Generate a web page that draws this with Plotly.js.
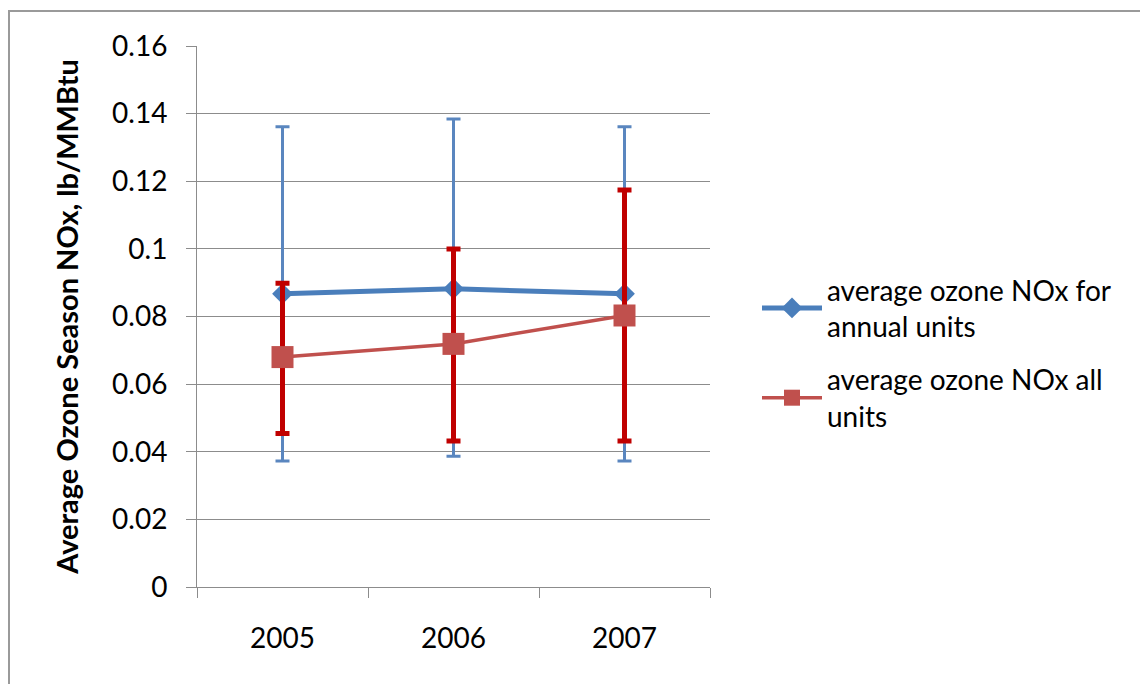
<!DOCTYPE html>
<html>
<head>
<meta charset="utf-8">
<script src="https://cdn.plot.ly/plotly-3.0.1.min.js"></script>
<style>
body{margin:0;background:#fff}
#chart{width:1140px;height:684px}
</style>
</head>
<body>
<div id="chart"></div>
<script>

// values
let years=["2005","2006","2007"]

let annualMean=[0.0867,0.0882,0.0867]
let annualHigh=[0.1361,0.1384,0.1361]
let annualLow=[0.0373,0.0387,0.0373]

let allMean=[0.0680,0.0719,0.0803]
let allHigh=[0.0898,0.1000,0.1174]
let allLow=[0.0454,0.0432,0.0432]

let yTicks=[0,0.02,0.04,0.06,0.08,0.1,0.12,0.14,0.16]
let yTickText=["0","0.02","0.04","0.06","0.08","0.1","0.12","0.14","0.16"]

let FONT="Lato, 'Open Sans', sans-serif"
let GRID="#8c8c8c"

// plot area box, px
let L=197,R=430,T=46,B=97
let W=1140-L-R,H=684-T-B

function errs(mean,hi,lo){
return{
type:"data",
symmetric:false,
array:mean.map((m,i)=>hi[i]-m),
arrayminus:mean.map((m,i)=>m-lo[i])
}
}

let annual={
x:years,
y:annualMean,
name:"average ozone NOx for<br>annual units",
legendgroup:"annual",
type:"scatter",
mode:"lines+markers",
line:{color:"#4a7ebb",width:5},
marker:{symbol:"diamond",size:16,color:"#4a7ebb"},
error_y:Object.assign(errs(annualMean,annualHigh,annualLow),{color:"#5a86bf",thickness:3,width:7})
}

let all={
x:years,
y:allMean,
name:"average ozone NOx all<br>units",
legendgroup:"all",
type:"scatter",
mode:"lines+markers",
line:{color:"#c0504d",width:3.5},
marker:{symbol:"square",size:22,color:"#c0504d"},
error_y:Object.assign(errs(allMean,allHigh,allLow),{color:"#c00000",thickness:5,width:7})
}

let layout={
width:1140,
height:684,
margin:{l:L,r:R,t:T,b:B},
paper_bgcolor:"#fff",
plot_bgcolor:"#fff",
font:{family:FONT,size:28,color:"#000"},
showlegend:true,
legend:{
x:(757-L)/W,
y:1-(265-T)/H,
xanchor:"left",
yanchor:"top",
traceorder:"grouped",
itemwidth:60,
tracegroupgap:14,
font:{family:FONT,size:28,color:"#000"}
},
xaxis:{
type:"category",
range:[-0.5,2.5],
tickson:"boundaries",
ticks:"outside",
ticklen:10,
tickcolor:GRID,
showline:true,
linecolor:GRID,
showgrid:false,
ticklabelstandoff:26,
tickfont:{family:FONT,size:28},
fixedrange:true
},
yaxis:{
range:[0,0.16],
tickvals:yTicks,
ticktext:yTickText,
ticks:"outside",
ticklen:10,
tickcolor:GRID,
showline:true,
linecolor:GRID,
gridcolor:GRID,
gridwidth:1,
zeroline:false,
ticklabelstandoff:13,
tickfont:{family:FONT,size:28},
title:{
text:"<b>Average Ozone Season NOx, lb/MMBtu</b>",
font:{family:FONT,size:29},
standoff:24
},
fixedrange:true
},
shapes:[{
type:"rect",
xref:"paper",
yref:"paper",
x0:(9-L)/W,
x1:(1146-L)/W,
y0:1-(690-T)/H,
y1:1-(11-T)/H,
line:{color:"#9a9a9a",width:2},
layer:"below"
}]
}

Plotly.newPlot("chart",[annual,all],layout,{displayModeBar:false,staticPlot:true})

</script>
</body>
</html>
